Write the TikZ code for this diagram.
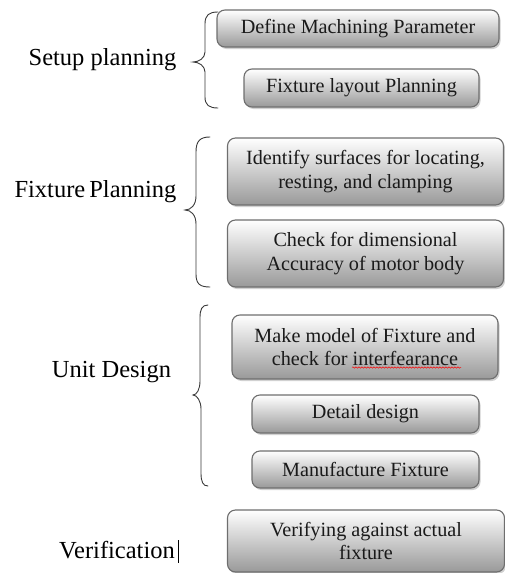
\documentclass[tikz,border=0pt]{standalone}
\usepackage{fontspec}
\setmainfont{Liberation Serif}
\usetikzlibrary{shadows,decorations.pathmorphing}
\definecolor{boxline}{HTML}{6E6E6E}
\definecolor{boxtext}{HTML}{1A1A1A}
\definecolor{bracecol}{HTML}{3A3A3A}
\begin{document}
\begin{tikzpicture}[x=1pt,y=-1pt,
  stepbox/.style={draw=boxline, line width=1.1pt, rounded corners=8pt,
    top color=white, bottom color=black!40, text=boxtext,
    inner sep=0pt, align=center,
    font=\fontsize{20.2}{23.5}\selectfont,
    drop shadow={shadow xshift=1.5pt, shadow yshift=-2pt, fill=black!30, opacity=0.6}},
  phase/.style={font=\fontsize{24.5}{28}\selectfont, text=black, inner sep=0pt},
  bracepath/.style={draw=bracecol, line width=0.9pt, line cap=round}]
\useasboundingbox (0,0) rectangle (505,573);

% step boxes
\node[stepbox, minimum width=282pt, minimum height=37pt] (b1) at (358,28.5) {Define Machining Parameter};
\node[stepbox, minimum width=235pt, minimum height=38pt] (b2) at (361.5,88) {Fixture layout Planning};
\node[stepbox, minimum width=276pt, minimum height=67pt] (b3) at (365.5,171.5) {Identify surfaces for locating,\\resting, and clamping};
\node[stepbox, minimum width=276pt, minimum height=67pt] (b4) at (365.5,253.5) {Check for dimensional\\Accuracy of motor body};
\node[stepbox, minimum width=266pt, minimum height=64pt] (b5) at (365,347) {Make model of Fixture and\\check for interfearance};
\node[stepbox, minimum width=227pt, minimum height=38pt] (b6) at (365.5,414) {Detail design};
\node[stepbox, minimum width=227pt, minimum height=37pt] (b7) at (365.5,469.5) {Manufacture Fixture};
\node[stepbox, minimum width=277pt, minimum height=62pt] (b8) at (366,541) {Verifying against actual\\fixture};

% spell-check underline
\draw[red, line width=0.5pt, decorate, decoration={snake, amplitude=0.7pt, segment length=3pt}]
  (352,367.5) -- (461,367.5);

% phase labels
\node[phase] (p1) at (102.5,60) {Setup planning};
\node[phase] (p2) at (95.5,192) {Fixture\,Planning};
\node[phase] (p3) at (111.5,372) {Unit Design};
\node[phase] (p4) at (117,550) {Verification};
\draw[black, line width=1.2pt] (178.5,540) -- (178.5,563);

% curly braces
\draw[bracepath] (218,12) .. controls (209,12) and (205,15) .. (205,24)
  -- (205,52) .. controls (205,58) and (199,62) .. (193,62)
  .. controls (199,62) and (205,66) .. (205,72)
  -- (205,97) .. controls (205,105) and (209,108) .. (218,108);
\draw[bracepath] (210,137) .. controls (200,137) and (196,141) .. (196,152)
  -- (196,196) .. controls (196,205) and (191,210) .. (185,210)
  .. controls (191,210) and (196,215) .. (196,224)
  -- (196,274) .. controls (196,284) and (200,287) .. (210,287);
\draw[bracepath] (208,305) .. controls (202,305) and (200,309) .. (200,318)
  -- (200,381) .. controls (200,389) and (197,395) .. (193,395)
  .. controls (197,395) and (201,401) .. (201,409)
  -- (201,473) .. controls (201,482) and (203,486) .. (208,486);
\end{tikzpicture}
\end{document}
